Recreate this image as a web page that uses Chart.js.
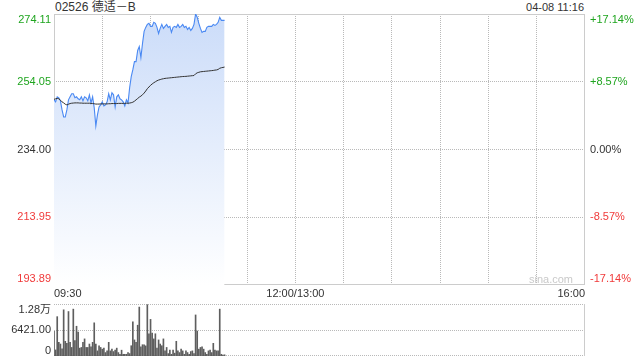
<!DOCTYPE html>
<html>
<head>
<meta charset="utf-8">
<script src="https://cdn.jsdelivr.net/npm/chart.js@4/dist/chart.umd.min.js"></script>
<style>
  html, body { margin: 0; padding: 0; background: #fff; }
  body { width: 640px; height: 360px; position: relative; overflow: hidden;
         font-family: "Liberation Sans", Arial, "Noto Sans CJK SC", sans-serif; color: #333; }
  #title { position: absolute; left: 55px; top: 0px; font-size: 12px; line-height: 14px; white-space: nowrap; }
  #stamp { position: absolute; right: 56px; top: 0px; font-size: 11px; line-height: 14px; white-space: nowrap; }
  canvas { position: absolute; left: 0; }
  #main { top: 0; }
  #vol { top: 300px; }
</style>
</head>
<body>
<div id="title">02526 德适－B</div>
<div id="stamp">04-08 11:16</div>
<canvas id="main" width="640" height="300"></canvas>
<canvas id="vol" width="640" height="60"></canvas>
<script>
// ---- data (minute index 0 = 09:30) ----
const PRICE = [
  248.70, 248.10, 249.59, 249.30, 248.40, 245.72, 243.64, 243.64, 245.72, 248.70,
  249.59, 250.49, 250.49, 249.30, 249.59, 249.00, 248.70, 249.59, 248.40, 249.59,
  249.30, 248.40, 250.19, 247.81, 249.59, 246.32, 240.96, 244.23, 246.62, 247.21,
  248.10, 246.91, 247.21, 248.10, 250.49, 248.70, 250.79, 250.19, 246.62, 249.59,
  250.19, 249.00, 248.70, 248.10, 246.91, 248.70, 247.81, 252.27, 255.55, 257.64,
  260.02, 260.02, 263.30, 264.49, 261.21, 265.38, 268.96, 270.15, 271.04, 271.34,
  270.45, 270.45, 271.64, 271.34, 270.15, 268.36, 269.85, 271.04, 269.85, 270.45,
  271.04, 270.15, 270.45, 268.66, 270.15, 270.45, 270.15, 271.04, 270.15, 270.45,
  271.04, 270.15, 270.45, 269.55, 270.15, 269.25, 269.85, 271.04, 274.11, 273.13,
  271.34, 269.85, 268.66, 268.96, 268.96, 270.15, 270.45, 270.45, 270.45, 271.04,
  270.74, 271.04, 271.64, 273.13, 272.23, 272.23, 272.23
];
const AVG_PRICE = [
  248.85, 249.00, 249.15, 249.00, 248.60, 248.10, 247.80, 247.40, 247.20, 247.40,
  247.60, 247.70, 247.75, 247.80, 247.80, 247.80, 247.75, 247.75, 247.70, 247.70,
  247.70, 247.70, 247.70, 247.65, 247.60, 247.55, 247.45, 247.45, 247.45, 247.50,
  247.50, 247.50, 247.50, 247.50, 247.55, 247.55, 247.60, 247.60, 247.60, 247.60,
  247.65, 247.65, 247.65, 247.65, 247.65, 247.70, 247.70, 247.75, 247.85, 248.00,
  248.30, 248.70, 249.10, 249.50, 249.80, 250.20, 250.70, 251.30, 252.00, 252.50,
  253.00, 253.40, 253.75, 254.05, 254.35, 254.55, 254.70, 254.85, 254.95, 255.05,
  255.10, 255.15, 255.20, 255.25, 255.30, 255.35, 255.40, 255.45, 255.50, 255.55,
  255.60, 255.62, 255.65, 255.70, 255.75, 255.80, 255.85, 255.90, 256.40, 256.70,
  256.85, 257.00, 257.05, 257.10, 257.15, 257.20, 257.25, 257.30, 257.35, 257.40,
  257.50, 257.55, 257.70, 258.05, 258.20, 258.30, 258.40
];
const VOLUME = [
  6083, 1500, 9716, 3380, 2957, 1800, 11406, 3633, 3126, 10983,
  3380, 2112, 11575, 3802, 7350, 5914, 1943, 2112, 3380, 4224,
  2112, 2112, 2957, 2281, 3380, 8195, 2957, 1267, 2535, 2112,
  1690, 1943, 845, 1267, 3380, 1267, 1690, 1100, 1436, 1943,
  845, 422, 1436, 422, 422, 422, 845, 591, 2535, 8449,
  3971, 3380, 7604, 12082, 2281, 2788, 2788, 2500, 12673, 5491,
  9040, 5660, 4224, 5491, 1943, 3971, 2957, 2535, 4224, 1267,
  2112, 591, 1436, 422, 1436, 700, 3633, 1267, 845, 1690,
  1267, 422, 1267, 845, 422, 1099, 1267, 591, 10138, 6167,
  1690, 2112, 2281, 1690, 845, 422, 1267, 1436, 845, 3126,
  1436, 1267, 1267, 11575, 422, 253, 300
];
const PRICE_TICKS = [274.11, 254.05, 234.00, 213.95, 193.89];
const PRICE_LABELS = ['274.11', '254.05', '234.00', '213.95', '193.89'];
const PCT_LABELS = ['+17.14%', '+8.57%', '0.00%', '-8.57%', '-17.14%'];
const TICK_COLORS = ['#1fa51f', '#1fa51f', '#333333', '#f03a3a', '#f03a3a'];
const TIME_GRID = [30, 60, 90, 120, 150, 180, 210, 240, 270, 300];
const TIME_TICKS = [0, 150, 330];
const TIME_LABELS = ['09:30', '12:00/13:00', '16:00'];
const VOL_TICKS = [12842, 6421, 0];
const VOL_LABELS = ['1.28万', '6421.00', '0'];
const SESSION_MINUTES = 330;

const FONT = '11px "Liberation Sans", Arial, "Noto Sans CJK SC", sans-serif';
const GRID = '#b9b9b9';
const FRAME = '#cccccc';

function hline(ctx, x1, x2, y) { ctx.beginPath(); ctx.moveTo(x1, y); ctx.lineTo(x2, y); ctx.stroke(); }
function vline(ctx, x, y1, y2) { ctx.beginPath(); ctx.moveTo(x, y1); ctx.lineTo(x, y2); ctx.stroke(); }

const mainDecor = {
  id: 'mainDecor',
  beforeDatasetsDraw(chart) {
    const { ctx, chartArea: a, scales: { x, y } } = chart;
    ctx.save();
    ctx.lineWidth = 1;
    ctx.strokeStyle = GRID;
    ctx.setLineDash([1, 1]);
    PRICE_TICKS.slice(1, -1).forEach(v => {
      const py = Math.floor(y.getPixelForValue(v)) + 0.5;
      hline(ctx, a.left, a.right, py);
    });
    TIME_GRID.forEach(m => {
      const px = Math.floor(x.getPixelForValue(m)) + 0.5;
      vline(ctx, px, a.top, a.bottom);
    });
    ctx.setLineDash([]);
    ctx.strokeStyle = FRAME;
    ctx.strokeRect(Math.floor(a.left) + 0.5, Math.floor(a.top) + 0.5,
                   Math.round(a.right - a.left) - 1, Math.round(a.bottom - a.top) - 1);
    // watermark
    ctx.fillStyle = '#c9c9c9';
    ctx.font = FONT;
    ctx.textAlign = 'right';
    ctx.textBaseline = 'bottom';
    ctx.fillText('sina.com', a.right - 12, a.bottom);
    ctx.restore();
  },
  afterDraw(chart) {
    const { ctx, chartArea: a, scales: { x, y } } = chart;
    ctx.save();
    ctx.font = FONT;
    PRICE_TICKS.forEach((v, i) => {
      let py = y.getPixelForValue(v);
      if (i === 0) { ctx.textBaseline = 'top'; py = a.top; }
      else if (i === PRICE_TICKS.length - 1) { ctx.textBaseline = 'bottom'; py = a.bottom - 1; }
      else ctx.textBaseline = 'middle';
      ctx.fillStyle = TICK_COLORS[i];
      ctx.textAlign = 'right';
      ctx.fillText(PRICE_LABELS[i], a.left - 3, py);
      ctx.textAlign = 'left';
      ctx.fillText(PCT_LABELS[i], a.right + 5, py);
    });
    ctx.fillStyle = '#333';
    ctx.textBaseline = 'middle';
    TIME_TICKS.forEach((m, i) => {
      const px = x.getPixelForValue(m);
      ctx.textAlign = i === 0 ? 'left' : (i === TIME_TICKS.length - 1 ? 'right' : 'center');
      ctx.fillText(TIME_LABELS[i], px, a.bottom + 9);
    });
    ctx.restore();
  }
};

const volDecor = {
  id: 'volDecor',
  beforeDatasetsDraw(chart) {
    const { ctx, chartArea: a, scales: { y } } = chart;
    ctx.save();
    ctx.lineWidth = 1;
    ctx.strokeStyle = GRID;
    ctx.setLineDash([1, 1]);
    VOL_TICKS.forEach(v => {
      let py = Math.floor(y.getPixelForValue(v)) + 0.5;
      if (py > a.bottom) py = Math.floor(a.bottom) - 0.5;
      hline(ctx, a.left, a.right, py);
    });
    ctx.setLineDash([]);
    ctx.strokeStyle = FRAME;
    vline(ctx, Math.floor(a.right) - 0.5, a.top, a.bottom);
    ctx.restore();
  },
  afterDraw(chart) {
    const { ctx, chartArea: a, scales: { y } } = chart;
    ctx.save();
    ctx.font = FONT;
    ctx.fillStyle = '#333';
    ctx.textAlign = 'right';
    VOL_TICKS.forEach((v, i) => {
      let py = y.getPixelForValue(v);
      if (i === 0) { ctx.textBaseline = 'top'; py = a.top; }
      else if (i === VOL_TICKS.length - 1) { ctx.textBaseline = 'bottom'; py = a.bottom; }
      else ctx.textBaseline = 'middle';
      ctx.fillText(VOL_LABELS[i], a.left - 3, py);
    });
    ctx.restore();
  }
};

const pts = arr => arr.map((v, i) => ({ x: i, y: v }));

new Chart(document.getElementById('main'), {
  type: 'line',
  data: {
    datasets: [
      {
        data: pts(AVG_PRICE),
        borderColor: '#333333',
        borderWidth: 1,
        pointRadius: 0,
        tension: 0,
        fill: false
      },
      {
        data: pts(PRICE),
        borderColor: '#4a89f3',
        borderWidth: 1.1,
        pointRadius: 0,
        tension: 0,
        fill: 'start',
        backgroundColor(ctx) {
          const c = ctx.chart;
          const a = c.chartArea;
          if (!a) return 'rgba(200,218,248,0.8)';
          const g = c.ctx.createLinearGradient(0, a.top, 0, a.bottom);
          g.addColorStop(0, '#cbdcf9');
          g.addColorStop(1, '#ffffff');
          return g;
        }
      }
    ]
  },
  options: {
    responsive: false,
    animation: false,
    devicePixelRatio: 1,
    layout: { padding: { left: 54, right: 55, top: 14, bottom: 15 } },
    plugins: { legend: { display: false }, tooltip: { enabled: false } },
    scales: {
      x: { type: 'linear', min: 0, max: SESSION_MINUTES, display: false },
      y: { type: 'linear', min: PRICE_TICKS[PRICE_TICKS.length - 1], max: PRICE_TICKS[0], display: false }
    }
  },
  plugins: [mainDecor]
});

new Chart(document.getElementById('vol'), {
  type: 'bar',
  data: {
    datasets: [{
      data: pts(VOLUME),
      backgroundColor: '#5e5e5e',
      barThickness: 1,
      borderWidth: 0
    }]
  },
  options: {
    responsive: false,
    animation: false,
    devicePixelRatio: 1,
    layout: { padding: { left: 54, right: 55, top: 4, bottom: 4 } },
    plugins: { legend: { display: false }, tooltip: { enabled: false } },
    scales: {
      x: { type: 'linear', min: 0, max: SESSION_MINUTES, offset: false, display: false },
      y: { type: 'linear', min: 0, max: VOL_TICKS[0], display: false }
    }
  },
  plugins: [volDecor]
});
</script>
</body>
</html>
